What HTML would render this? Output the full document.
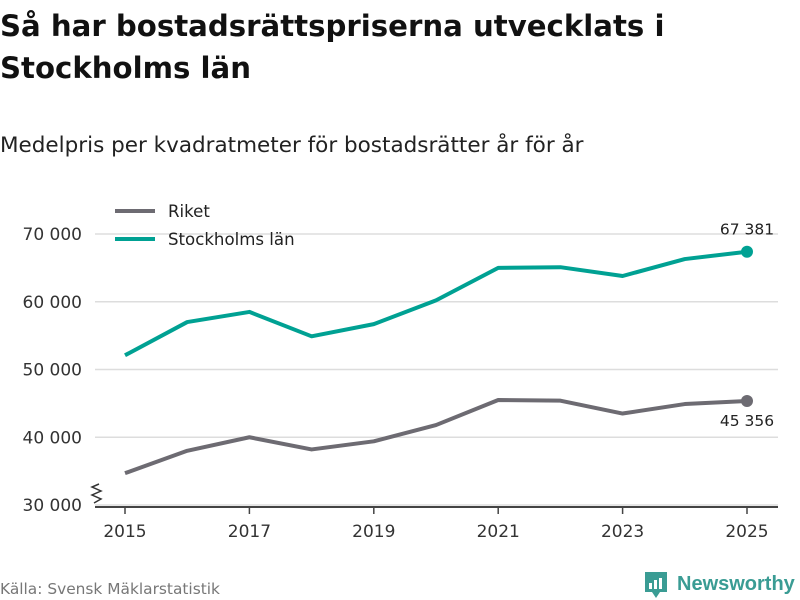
<!DOCTYPE html>
<html><head><meta charset="utf-8">
<style>
body{margin:0;background:#fff;font-family:"DejaVu Sans","Liberation Sans",sans-serif;}
#c{position:relative;width:800px;height:600px;overflow:hidden;}
</style></head>
<body>
<div id="c">
<svg id="s" width="800" height="600" xmlns="http://www.w3.org/2000/svg">
<text x="0" y="36" font-size="29.2" font-weight="bold" fill="#111">Så har bostadsrättspriserna utvecklats i</text>
<text x="0" y="78" font-size="29.2" font-weight="bold" fill="#111">Stockholms län</text>
<text x="0" y="152" font-size="21.5" fill="#222">Medelpris per kvadratmeter för bostadsrätter år för år</text>
<g id="grid"></g>
<g id="series"></g>
<g>
<line x1="115" y1="211" x2="155" y2="211" stroke="#6d6b72" stroke-width="4"/>
<text x="168" y="217" font-size="16.6" fill="#222">Riket</text>
<line x1="115" y1="239" x2="155" y2="239" stroke="#00a193" stroke-width="4"/>
<text x="168" y="245" font-size="16.6" fill="#222">Stockholms län</text>
</g>
<path d="M99 484 L92 487 L101 491 L92 495 L101 499 L94 503" fill="none" stroke="#333" stroke-width="1.5"/>
<text x="0" y="594" font-size="15.4" fill="#777">Källa: Svensk Mäklarstatistik</text>
<g>
<path d="M645 572 h22 v20 h-7 l-4 6 l-4 -6 h-7 z" fill="#3a9c94"/>
<rect x="649" y="583" width="3" height="6" fill="#fff"/><rect x="654" y="580" width="3" height="9" fill="#fff"/><rect x="659" y="578" width="3" height="11" fill="#fff"/>
<text x="677" y="590" font-size="20" font-weight="bold" fill="#3a9c94" font-family="Liberation Sans, sans-serif">Newsworthy</text>
</g>
</svg>
</div>
<script>
const years=[2015,2016,2017,2018,2019,2020,2021,2022,2023,2024,2025];
const riket=[34700,38000,40000,38200,39400,41800,45500,45400,43500,44900,45356];
const stockholm=[52100,57000,58500,54900,56700,60200,65000,65100,63800,66300,67381];
const yTicks=[30000,40000,50000,60000,70000];
const xTicks=[2015,2017,2019,2021,2023,2025];
const NS='http://www.w3.org/2000/svg';
const x=v=>125+(v-2015)*62.2;
const y=v=>505-(v-30000)*0.006775;
const fmt=v=>String(Math.round(v)).replace(/\B(?=(\d{3})+(?!\d))/g,' ');
function mk(t,a,p){const e=document.createElementNS(NS,t);for(const k in a)e.setAttribute(k,a[k]);p.appendChild(e);return e;}
const g=document.getElementById('grid'),s=document.getElementById('series');
yTicks.forEach(v=>{
 const l=mk('line',{x1:95,x2:778,y1:y(v),y2:y(v),stroke:'#ddd','stroke-width':1.5},g);
 
 
 const t=mk('text',{x:82,y:y(v)+6,'font-size':17,fill:'#333','text-anchor':'end'},g);t.textContent=fmt(v);
 
 
});
const ax=mk('line',{x1:95,x2:778,y1:507,y2:507,stroke:'#444','stroke-width':2},g);


xTicks.forEach(v=>{
 mk('line',{x1:x(v),x2:x(v),y1:507,y2:514,stroke:'#444','stroke-width':1.5},g);
 const t=mk('text',{x:x(v),y:537,'font-size':17,fill:'#333','text-anchor':'middle'},g);t.textContent=v;
 
 
});
function line(data,col,name,labDy){
 const p=mk('path',{d:data.map((v,i)=>(i?'L':'M')+x(years[i])+' '+y(v)).join(' '),fill:'none',stroke:col,'stroke-width':4,'stroke-linejoin':'round'},s);
 
 
 const n=data.length-1;
 const c=mk('circle',{cx:x(years[n]),cy:y(data[n]),r:6,fill:col},s);
 
 
 const t=mk('text',{x:x(years[n]),y:y(data[n])+labDy,'font-size':15.5,fill:'#222','text-anchor':'middle'},s);t.textContent=fmt(data[n]);
 
 
}
line(riket,'#6d6b72','riket',25);
line(stockholm,'#00a193','stockholm',-17);
</script>
</body></html>
